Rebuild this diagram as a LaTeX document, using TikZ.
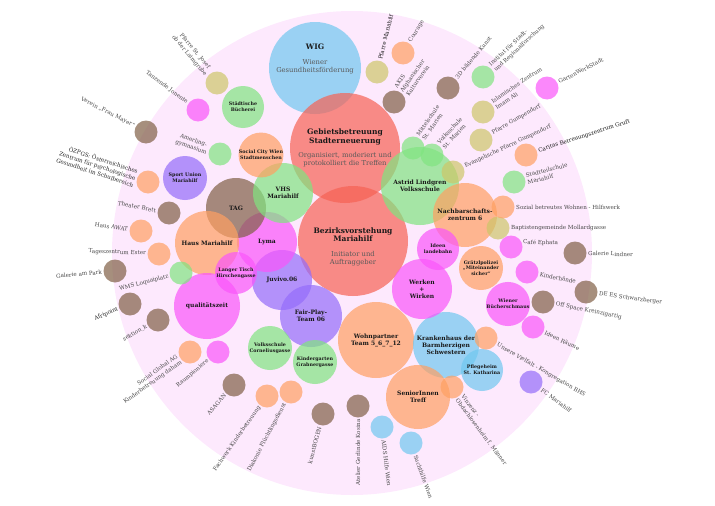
\documentclass[tikz,border=0pt]{standalone}
\usepackage{fontspec}
\setmainfont{DejaVu Serif}

\definecolor{bgpink}{RGB}{253,233,253}
\definecolor{cred}{RGB}{246,98,84}
\definecolor{cblue}{RGB}{112,200,240}
\definecolor{cgreen}{RGB}{128,228,128}
\definecolor{corange}{RGB}{255,160,98}
\definecolor{cbrown}{RGB}{128,95,70}
\definecolor{cmagenta}{RGB}{250,85,250}
\definecolor{cpurple}{RGB}{148,108,250}
\definecolor{ckhaki}{RGB}{205,198,105}

\newcommand{\hubnote}[1]{{\mdseries\fontsize{6.8}{7.6}\selectfont\color{black!65}#1}}

\begin{document}
\begin{tikzpicture}[
    x=1pt, y=-1pt,
    bubble/.style={circle, inner sep=0pt, outer sep=0pt, fill opacity=0.7, text opacity=1, align=center, text=black!90},
    hubtitle/.style={align=center, font=\fontsize{7.5}{8.2}\selectfont\bfseries, text=black!90},
    member/.style={bubble, font=\fontsize{6}{7}\selectfont\bfseries},
    smallmember/.style={bubble, font=\fontsize{4.8}{5.8}\selectfont\bfseries},
    partner/.style={bubble, minimum size=23pt},
    taglt/.style={anchor=east, align=right, inner sep=1.5pt, font=\fontsize{5.6}{7.2}\selectfont, text=black!72},
    tagrt/.style={anchor=west, align=left, inner sep=1.5pt, font=\fontsize{5.6}{7.2}\selectfont, text=black!72}
  ]
  \useasboundingbox (0,0) rectangle (715,506);
  \fill[bgpink] (352,253) ellipse [x radius=240pt, y radius=242pt];

  % Place hubs
  \node[bubble, fill=cblue, minimum size=92pt] (wig) at (315,68) {};
  \node[bubble, fill=cred, minimum size=110pt] (gb) at (345,148) {};
  \node[bubble, fill=cred, minimum size=110pt] (bv) at (353,241) {};
  \node[hubtitle] (wig-t) at (315,59) {WIG\\[6pt]\hubnote{Wiener}\\\hubnote{Gesundheitsförderung}};
  \node[hubtitle] (gb-t) at (345,148) {Gebietsbetreuung\\Stadterneuerung\\[6pt]\hubnote{Organisiert, moderiert und}\\\hubnote{protokolliert die Treffen}};
  \node[hubtitle] (bv-t) at (353,247) {Bezirksvorstehung\\Mariahilf\\[6pt]\hubnote{Initiator und}\\\hubnote{Auftraggeber}};

  % Place members
  \node[member, fill=cgreen, minimum size=78pt] (astrid) at (420,186) {Astrid Lindgren\\Volksschule};
  \node[member, fill=corange, minimum size=64pt] (nbz) at (465,215) {Nachbarschafts-\\zentrum 6};
  \node[member, fill=corange, minimum size=76pt] (wohnp) at (376,340) {Wohnpartner\\Team 5\_6\_7\_12};
  \node[member, fill=cblue, minimum size=66pt] (kh) at (446,345) {Krankenhaus der\\Barmherzigen\\Schwestern};
  \node[member, fill=corange, minimum size=64pt] (senior) at (418,397) {SeniorInnen\\Treff};
  \node[member, fill=cpurple, minimum size=62pt] (fairplay) at (311,316) {Fair-Play-\\Team 06};
  \node[member, fill=cpurple, minimum size=60pt] (juvivo) at (282,280) {Juvivo.06};
  \node[member, fill=cmagenta, minimum size=60pt] (lyma) at (267,242) {Lyma};
  \node[member, fill=cbrown, minimum size=60pt] (tag) at (236,208) {TAG};
  \node[member, fill=cgreen, minimum size=60pt] (vhs) at (283,193) {VHS\\Mariahilf};
  \node[member, fill=corange, minimum size=64pt] (hausm) at (207,243) {Haus Mariahilf};
  \node[member, fill=cmagenta, minimum size=66pt] (qzeit) at (207,306) {qualitätszeit};
  \node[member, fill=cmagenta, minimum size=60pt] (werken) at (422,289) {Werken\\+\\Wirken};
  \node[smallmember, fill=cmagenta, minimum size=42pt] (tisch) at (236,273) {Langer Tisch\\Hirschengasse};
  \node[smallmember, fill=cpurple, minimum size=44pt] (sport) at (185,178) {Sport Union\\Mariahilf};
  \node[smallmember, fill=corange, minimum size=42pt] (scity) at (261,155) {Social City Wien\\Stadtmenschen};
  \node[smallmember, fill=cgreen, minimum size=42pt] (buecherei) at (243,107) {Städtische\\Bücherei};
  \node[smallmember, fill=cgreen, minimum size=44pt] (cornelius) at (270,348) {Volksschule\\Corneliusgasse};
  \node[smallmember, fill=cgreen, minimum size=44pt] (kiga) at (315,362) {Kindergarten\\Grabnergasse};
  \node[smallmember, fill=cblue, minimum size=42pt] (pflege) at (482,370) {Pflegeheim\\St. Katharina};
  \node[smallmember, fill=cmagenta, minimum size=42pt] (landebahn) at (438,249) {Ideen\\landebahn};
  \node[smallmember, fill=corange, minimum size=44pt] (polizei) at (481,268) {Grätzlpolizei\\„Miteinander\\sicher“};
  \node[smallmember, fill=cmagenta, minimum size=44pt] (schmaus) at (508,304) {Wiener\\Bücherschmaus};

  % Place partners, left half
  \node[partner, fill=ckhaki] (josef) at (217,83) {};
  \node[partner, fill=cmagenta] (jonente) at (198,110) {};
  \node[partner, fill=cbrown] (mayer) at (146,132) {};
  \node[partner, fill=cgreen] (amerling) at (220,154) {};
  \node[partner, fill=corange] (ozpgs) at (148,182) {};
  \node[partner, fill=cbrown] (brett) at (169,213) {};
  \node[partner, fill=corange] (awat) at (141,231) {};
  \node[partner, fill=corange] (ester) at (159,254) {};
  \node[partner, fill=cbrown] (galpark) at (115,271) {};
  \node[partner, fill=cgreen] (wms) at (181,273) {};
  \node[partner, fill=cbrown] (afripoint) at (130,304) {};
  \node[partner, fill=cbrown] (sektion) at (158,320) {};
  \node[partner, fill=corange] (global) at (190,352) {};
  \node[partner, fill=cmagenta] (raumpio) at (218,352) {};
  \node[partner, fill=cbrown] (asagan) at (234,385) {};
  \node[partner, fill=corange] (fachwerk) at (267,396) {};
  \node[partner, fill=corange] (diakonie) at (291,392) {};
  \node[partner, fill=cbrown] (kbogen) at (323,414) {};
  \node[partner, fill=cbrown] (kosina) at (358,406) {};

  % Place partners, right half
  \node[partner, fill=cblue] (aids) at (382,427) {};
  \node[partner, fill=cblue] (sucht) at (411,443) {};
  \node[partner, fill=corange] (vinzenz) at (452,387) {};
  \node[partner, fill=cpurple] (fcm) at (531,382) {};
  \node[partner, fill=corange] (vielfalt) at (486,338) {};
  \node[partner, fill=cmagenta] (ideenr) at (533,327) {};
  \node[partner, fill=cbrown] (offspace) at (543,302) {};
  \node[partner, fill=cbrown] (dees) at (586,292) {};
  \node[partner, fill=cmagenta] (kinderh) at (527,272) {};
  \node[partner, fill=cbrown] (lindner) at (575,253) {};
  \node[partner, fill=cmagenta] (ephata) at (511,247) {};
  \node[partner, fill=ckhaki] (baptist) at (498,228) {};
  \node[partner, fill=corange] (hilfswerk) at (503,207) {};
  \node[partner, fill=cgreen] (stadtteil) at (514,182) {};
  \node[partner, fill=corange] (gruft) at (526,155) {};
  \node[partner, fill=ckhaki] (evang) at (453,172) {};
  \node[partner, fill=ckhaki] (gumpen) at (481,140) {};
  \node[partner, fill=ckhaki] (imam) at (483,112) {};
  \node[partner, fill=cgreen] (institut) at (483,77) {};
  \node[partner, fill=cmagenta] (garten) at (547,88) {};
  \node[partner, fill=cbrown] (kunst3d) at (448,88) {};
  \node[partner, fill=cgreen] (msmarien) at (413,148) {};
  \node[partner, fill=cgreen] (vsmarien) at (432,155) {};
  \node[partner, fill=cbrown] (akis) at (394,102) {};
  \node[partner, fill=corange] (courage) at (403,53) {};
  \node[partner, fill=ckhaki] (pfmariahilf) at (377,72) {};

  % Partner names, left half (reading towards the bubble)
  \node[taglt, rotate=-50, align=center] (josef-t) at (josef.130) {Pfarre St. Josef\\ob der Laimgrube};
  \node[taglt, rotate=-36] (jonente-t) at (jonente.144) {Tanzende Jonente};
  \node[taglt, rotate=-27] (mayer-t) at (mayer.153) {Verein „Frau Mayer“};
  \node[taglt, rotate=-20, align=center] (amerling-t) at (amerling.160) {Amerling-\\gymnasium};
  \node[taglt, rotate=-18, text=black!85] (ozpgs-t) at (ozpgs.162) {ÖZPGS: Österreichisches\\Zentrum für psychologische\\Gesundheit im Schulbereich};
  \node[taglt, rotate=-11] (brett-t) at (brett.169) {Theater Brett};
  \node[taglt, rotate=-8] (awat-t) at (awat.172) {Haus AWAT};
  \node[taglt, rotate=-2] (ester-t) at (ester.178) {Tageszentrum Ester};
  \node[taglt, rotate=5] (galpark-t) at (galpark.185) {Galerie am Park};
  \node[taglt, rotate=15] (wms-t) at (wms.195) {WMS Loquaiplatz};
  \node[taglt, rotate=23, text=black!85] (afripoint-t) at (afripoint.203) {Afripoint};
  \node[taglt, rotate=30] (sektion-t) at (sektion.210) {sektion\_k};
  \node[taglt, rotate=35] (global-t) at (global.215) {Social Global AG\\Kinderbetreuung daham};
  \node[taglt, rotate=40] (raumpio-t) at (raumpio.220) {Raumpioniere};
  \node[taglt, rotate=48] (asagan-t) at (asagan.228) {ASAGAN};
  \node[taglt, rotate=55] (fachwerk-t) at (fachwerk.235) {Fachwerk Kinderbetreuung};
  \node[taglt, rotate=62] (diakonie-t) at (diakonie.242) {Diakonie Flüchtlingsdienst};
  \node[taglt, rotate=75] (kbogen-t) at (kbogen.255) {kunstBOGEN};
  \node[taglt, rotate=90] (kosina-t) at (kosina.270) {Atelier Gerlinde Kosina};

  % Partner names, right half (reading away from the bubble)
  \node[tagrt, rotate=-83] (aids-t) at (aids.-83) {AIDS Hilfe Wien};
  \node[tagrt, rotate=-70] (sucht-t) at (sucht.-70) {Suchthilfe Wien};
  \node[tagrt, rotate=-53] (vinzenz-t) at (vinzenz.-53) {Vinzenz -\\Obdachlosenheim f. Männer};
  \node[tagrt, rotate=-36] (fcm-t) at (fcm.-36) {FC Mariahilf};
  \node[tagrt, rotate=-30] (vielfalt-t) at (vielfalt.-30) {Unsere Vielfalt - Kongregation BHS};
  \node[tagrt, rotate=-25] (ideenr-t) at (ideenr.-25) {Ideen Räume};
  \node[tagrt, rotate=-11] (offspace-t) at (offspace.-11) {Off Space Kreinzigartig};
  \node[tagrt, rotate=-8] (dees-t) at (dees.-8) {DE ES Schwarzberger};
  \node[tagrt, rotate=-11] (kinderh-t) at (kinderh.-11) {Kinderhände};
  \node[tagrt, rotate=-2] (lindner-t) at (lindner.0) {Galerie Lindner};
  \node[tagrt, rotate=-2] (ephata-t) at (ephata.25) {Café Ephata};
  \node[tagrt] (baptist-t) at (baptist.0) {Baptistengemeinde Mollardgasse};
  \node[tagrt] (hilfswerk-t) at (hilfswerk.0) {Sozial betreutes Wohnen - Hilfswerk};
  \node[tagrt, rotate=14] (stadtteil-t) at (stadtteil.14) {Stadtteilschule\\Mariahilf};
  \node[tagrt, rotate=18, text=black!90] (gruft-t) at (gruft.18) {Caritas Betreuungszentrum Gruft};
  \node[tagrt, rotate=25] (evang-t) at (evang.25) {Evangelische Pfarre Gumpendorf};
  \node[tagrt, rotate=30] (gumpen-t) at (gumpen.30) {Pfarre Gumpendorf};
  \node[tagrt, rotate=34] (imam-t) at (imam.34) {Islamisches Zentrum\\Imam Ali};
  \node[tagrt, rotate=43] (institut-t) at (institut.43) {Institut für Stadt-\\und Regionalforschung};
  \node[tagrt, rotate=27] (garten-t) at (garten.27) {GartenWerkStadt};
  \node[tagrt, rotate=50] (kunst3d-t) at (kunst3d.50) {3D bildende Kunst};
  \node[tagrt, rotate=55] (msmarien-t) at (msmarien.55) {Mittelschule\\St. Marien};
  \node[tagrt, rotate=47] (vsmarien-t) at (vsmarien.47) {Volksschule\\St. Marien};
  \node[tagrt, rotate=55] (akis-t) at (akis.55) {AKIS\\Afghanischer\\Kulturverein};
  \node[tagrt, rotate=58] (courage-t) at (courage.58) {Courage};
  \node[tagrt, rotate=76, text=black!90] (pfmariahilf-t) at (pfmariahilf.76) {Pfarre Mariahilf};
\end{tikzpicture}
\end{document}
